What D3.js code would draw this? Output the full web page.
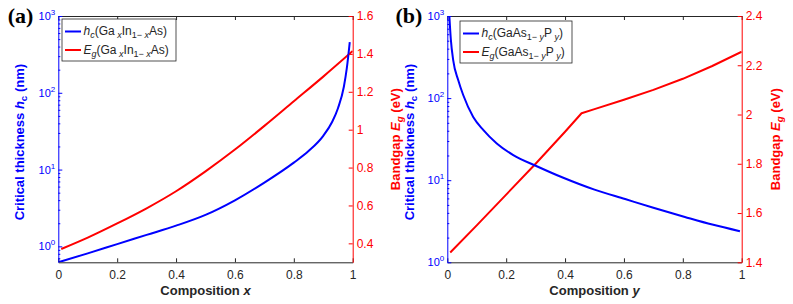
<!DOCTYPE html>
<html>
<head>
<meta charset="utf-8">
<script src="https://cdn.jsdelivr.net/npm/d3@7"></script>
<style>
  body { margin: 0; background: #fff; }
  svg { display: block; }
</style>
</head>
<body>
<svg id="chart" width="793" height="304"></svg>
<script>
// ----------------- DATA -----------------

// panel (a): GaxIn1-xAs
var compA_hc = [0, 0.1, 0.2, 0.3, 0.4, 0.5, 0.6, 0.7, 0.8, 0.85, 0.9, 0.93, 0.95, 0.97, 0.98, 0.99];
var hcA      = [0.62, 0.81, 1.07, 1.41, 1.86, 2.57, 3.98, 6.76, 12.3, 17.4, 27.5, 41.7, 63, 120, 209, 457];
var compA_eg = [0.01, 0.1, 0.2, 0.3, 0.4, 0.5, 0.6, 0.7, 0.8, 0.9, 1.0];
var egA      = [0.37, 0.43, 0.505, 0.585, 0.675, 0.78, 0.895, 1.02, 1.15, 1.28, 1.415];

// panel (b): GaAs1-yPy
var compB_hc = [0.006, 0.012, 0.02, 0.037, 0.054, 0.088, 0.122, 0.168, 0.224, 0.304, 0.394, 0.5, 0.604, 0.7, 0.807, 0.9, 0.994];
var hcB      = [1150, 520, 290, 166, 109, 59, 41, 28, 20.2, 14.8, 10.7, 7.67, 5.89, 4.62, 3.57, 2.88, 2.39];
var compB_eg = [0.01, 0.1, 0.2, 0.3, 0.4, 0.456, 0.5, 0.6, 0.7, 0.8, 0.9, 1.0];
var egB      = [1.44, 1.55, 1.675, 1.8, 1.93, 2.005, 2.022, 2.06, 2.1, 2.145, 2.197, 2.255];

// ticks
var compTicks = [0, 0.2, 0.4, 0.6, 0.8, 1];
var hcTicks   = [1, 10, 100, 1000];
var egTicksA  = [0.4, 0.6, 0.8, 1, 1.2, 1.4, 1.6];
var egTicksB  = [1.4, 1.6, 1.8, 2, 2.2, 2.4];

// ----------------- SETUP -----------------

var svg = d3.select("#chart");
var FONT = "'Liberation Sans', Arial, sans-serif";
var BLUE = "#0000ff", RED = "#ff0000", DARK = "#262626";

// parts: [{t, it, sub}] -> tspans with sub shifting
function richText(sel, parts, size) {
    var shift = 0;
    parts.forEach(function(p) {
        var target = p.sub ? 3 : 0;
        var ts = sel.append("tspan")
            .attr("dy", target - shift)
            .attr("font-size", p.sub ? size * 0.75 : size)
            .text(p.t);
        if (p.it) ts.attr("font-style", "italic");
        shift = target;
    });
    if (shift !== 0) sel.append("tspan").attr("dy", -shift).text("\u200b");
}

function drawPanel(cfg) {
    var g = svg.append("g");

    var x = d3.scaleLinear().domain([0, 1]).range([cfg.left, cfg.right]);
    var yL = d3.scaleLog().domain(cfg.hcDomain).range([cfg.bottom, cfg.top]);
    var yR = d3.scaleLinear().domain(cfg.egDomain).range([cfg.bottom, cfg.top]);

    // clip
    var clipId = "clip" + cfg.id;
    svg.append("clipPath").attr("id", clipId).append("rect")
        .attr("x", cfg.left).attr("y", cfg.top)
        .attr("width", cfg.right - cfg.left).attr("height", cfg.bottom - cfg.top);

    // curves
    var lineL = d3.line().x(function(d) { return x(d[0]); }).y(function(d) { return yL(d[1]); })
        .curve(d3.curveMonotoneX);
    var lineR = d3.line().x(function(d) { return x(d[0]); }).y(function(d) { return yR(d[1]); })
        .curve(cfg.egCurve);

    var plot = g.append("g").attr("clip-path", "url(#" + clipId + ")");
    plot.append("path").datum(d3.zip(cfg.egComp, cfg.eg))
        .attr("d", lineR).attr("fill", "none").attr("stroke", RED).attr("stroke-width", 2)
        .attr("stroke-linejoin", "round");
    plot.append("path").datum(d3.zip(cfg.hcComp, cfg.hc))
        .attr("d", lineL).attr("fill", "none").attr("stroke", BLUE).attr("stroke-width", 2);

    // bottom axis
    var xb = g.append("g").attr("transform", "translate(0," + cfg.bottom + ")")
        .call(d3.axisBottom(x).tickValues(compTicks).tickSize(-4).tickSizeOuter(0).tickPadding(8)
            .tickFormat(function(d) { return String(d); }));
    xb.attr("font-family", FONT).attr("font-size", 12);
    xb.selectAll("line, path").attr("stroke", DARK);
    xb.selectAll("text").attr("fill", DARK);

    // top axis
    var xt = g.append("g").attr("transform", "translate(0," + cfg.top + ")")
        .call(d3.axisTop(x).tickValues(compTicks).tickSize(-4).tickSizeOuter(0).tickFormat(""));
    xt.selectAll("line, path").attr("stroke", DARK);

    // left log axis
    var yl = g.append("g").attr("transform", "translate(" + cfg.left + ",0)")
        .call(d3.axisLeft(yL).tickValues(hcTicks.filter(function(v) { return v >= cfg.hcDomain[0]; }))
            .tickSize(-4).tickSizeOuter(0).tickPadding(3).tickFormat(""));
    yl.attr("font-family", FONT).attr("font-size", 11);
    yl.selectAll("line, path").attr("stroke", BLUE);
    yl.selectAll(".tick text").attr("fill", BLUE).each(function(d) {
        var t = d3.select(this);
        t.append("tspan").text("10");
        t.append("tspan").attr("dy", -5).attr("font-size", 8).text(Math.round(Math.log10(d)));
    });
    var minor = [];
    hcTicks.forEach(function(dec) {
        for (var k = 2; k <= 9; k++) {
            var v = dec * k / 10;
            if (v > cfg.hcDomain[0] && v < cfg.hcDomain[1]) minor.push(v);
        }
    });
    var ylm = g.append("g").attr("transform", "translate(" + cfg.left + ",0)")
        .call(d3.axisLeft(yL).tickValues(minor).tickSize(-2).tickSizeOuter(0).tickFormat(""));
    ylm.select(".domain").remove();
    ylm.selectAll("line").attr("stroke", BLUE);

    // right axis
    var yr = g.append("g").attr("transform", "translate(" + cfg.right + ",0)")
        .call(d3.axisRight(yR).tickValues(cfg.egTicks).tickSize(-4).tickSizeOuter(0).tickPadding(4)
            .tickFormat(function(d) { return String(d); }));
    yr.attr("font-family", FONT).attr("font-size", 12);
    yr.selectAll("line, path").attr("stroke", RED);
    yr.selectAll("text").attr("fill", RED);

    // axis titles
    var xTitle = g.append("text")
        .attr("x", (cfg.left + cfg.right) / 2).attr("y", 295)
        .attr("text-anchor", "middle").attr("font-family", FONT).attr("font-size", 13)
        .attr("font-weight", "bold").attr("fill", DARK);
    richText(xTitle, [{t: "Composition  "}, {t: cfg.var, it: true}], 13);

    var yTitleL = g.append("text")
        .attr("transform", "translate(" + cfg.titleL + "," + ((cfg.top + cfg.bottom) / 2 + 3) + ") rotate(-90)")
        .attr("text-anchor", "middle").attr("font-family", FONT).attr("font-size", 13)
        .attr("font-weight", "bold").attr("fill", BLUE);
    richText(yTitleL, [{t: "Critical thickness  "}, {t: "h", it: true}, {t: "c", sub: true}, {t: " (nm)"}], 13);

    var yTitleR = g.append("text")
        .attr("transform", "translate(" + cfg.titleR + "," + ((cfg.top + cfg.bottom) / 2) + ") rotate(-90)")
        .attr("text-anchor", "middle").attr("font-family", FONT).attr("font-size", 13)
        .attr("font-weight", "bold").attr("fill", RED);
    richText(yTitleR, [{t: "Bandgap  "}, {t: "E", it: true}, {t: "g", it: true, sub: true}, {t: " (eV)"}], 13);

    // panel tag
    g.append("text").attr("x", cfg.left - 25).attr("y", 23)
        .attr("text-anchor", "end").attr("font-family", "'Liberation Serif', 'Times New Roman', serif")
        .attr("font-size", 22).attr("font-weight", "bold").attr("fill", "#000")
        .text("(" + cfg.id + ")");

    // legend
    var lg = cfg.legend;
    g.append("rect").attr("x", lg.x).attr("y", lg.y).attr("width", lg.w).attr("height", lg.h)
        .attr("fill", "#fff").attr("stroke", DARK).attr("stroke-width", 0.8);
    var items = [{color: BLUE, parts: cfg.legendHc}, {color: RED, parts: cfg.legendEg}];
    items.forEach(function(it, i) {
        var yy = lg.y + 12.5 + i * 18.5;
        g.append("line").attr("x1", lg.x + 3).attr("x2", lg.x + 19).attr("y1", yy).attr("y2", yy)
            .attr("stroke", it.color).attr("stroke-width", 2);
        var t = g.append("text").attr("x", lg.x + 21.5).attr("y", yy + 3.5)
            .attr("font-family", FONT).attr("font-size", 12).attr("fill", DARK);
        richText(t, it.parts, 12);
    });
}

var MINUS = "\u2212";

drawPanel({
    id: "a", left: 58.3, right: 352.7, top: 16, bottom: 262.3,
    hcDomain: [0.62, 1000], egDomain: [0.3, 1.6], egTicks: egTicksA,
    hcComp: compA_hc, hc: hcA, egComp: compA_eg, eg: egA, egCurve: d3.curveMonotoneX,
    var: "x", titleL: 24, titleR: 400,
    legend: {x: 62, y: 19, w: 114, h: 42},
    legendHc: [{t: "h", it: true}, {t: "c", it: true, sub: true}, {t: "(Ga"}, {t: " x", it: true, sub: true},
               {t: "In"}, {t: "1" + MINUS + " ", sub: true}, {t: "x", it: true, sub: true}, {t: "As)"}],
    legendEg: [{t: "E", it: true}, {t: "g", it: true, sub: true}, {t: "(Ga"}, {t: " x", it: true, sub: true},
               {t: "In"}, {t: "1" + MINUS + " ", sub: true}, {t: "x", it: true, sub: true}, {t: "As)"}]
});

drawPanel({
    id: "b", left: 447.3, right: 741.7, top: 16, bottom: 262.3,
    hcDomain: [1, 1000], egDomain: [1.4, 2.4], egTicks: egTicksB,
    hcComp: compB_hc, hc: hcB, egComp: compB_eg, eg: egB, egCurve: d3.curveLinear,
    var: "y", titleL: 414, titleR: 780,
    legend: {x: 460, y: 21, w: 112, h: 42},
    legendHc: [{t: "h", it: true}, {t: "c", it: true, sub: true}, {t: "(GaAs"}, {t: "1" + MINUS + " ", sub: true},
               {t: "y", it: true, sub: true}, {t: "P"}, {t: " y", it: true, sub: true}, {t: ")"}],
    legendEg: [{t: "E", it: true}, {t: "g", it: true, sub: true}, {t: "(GaAs"}, {t: "1" + MINUS + " ", sub: true},
               {t: "y", it: true, sub: true}, {t: "P"}, {t: " y", it: true, sub: true}, {t: ")"}]
});
</script>
</body>
</html>
